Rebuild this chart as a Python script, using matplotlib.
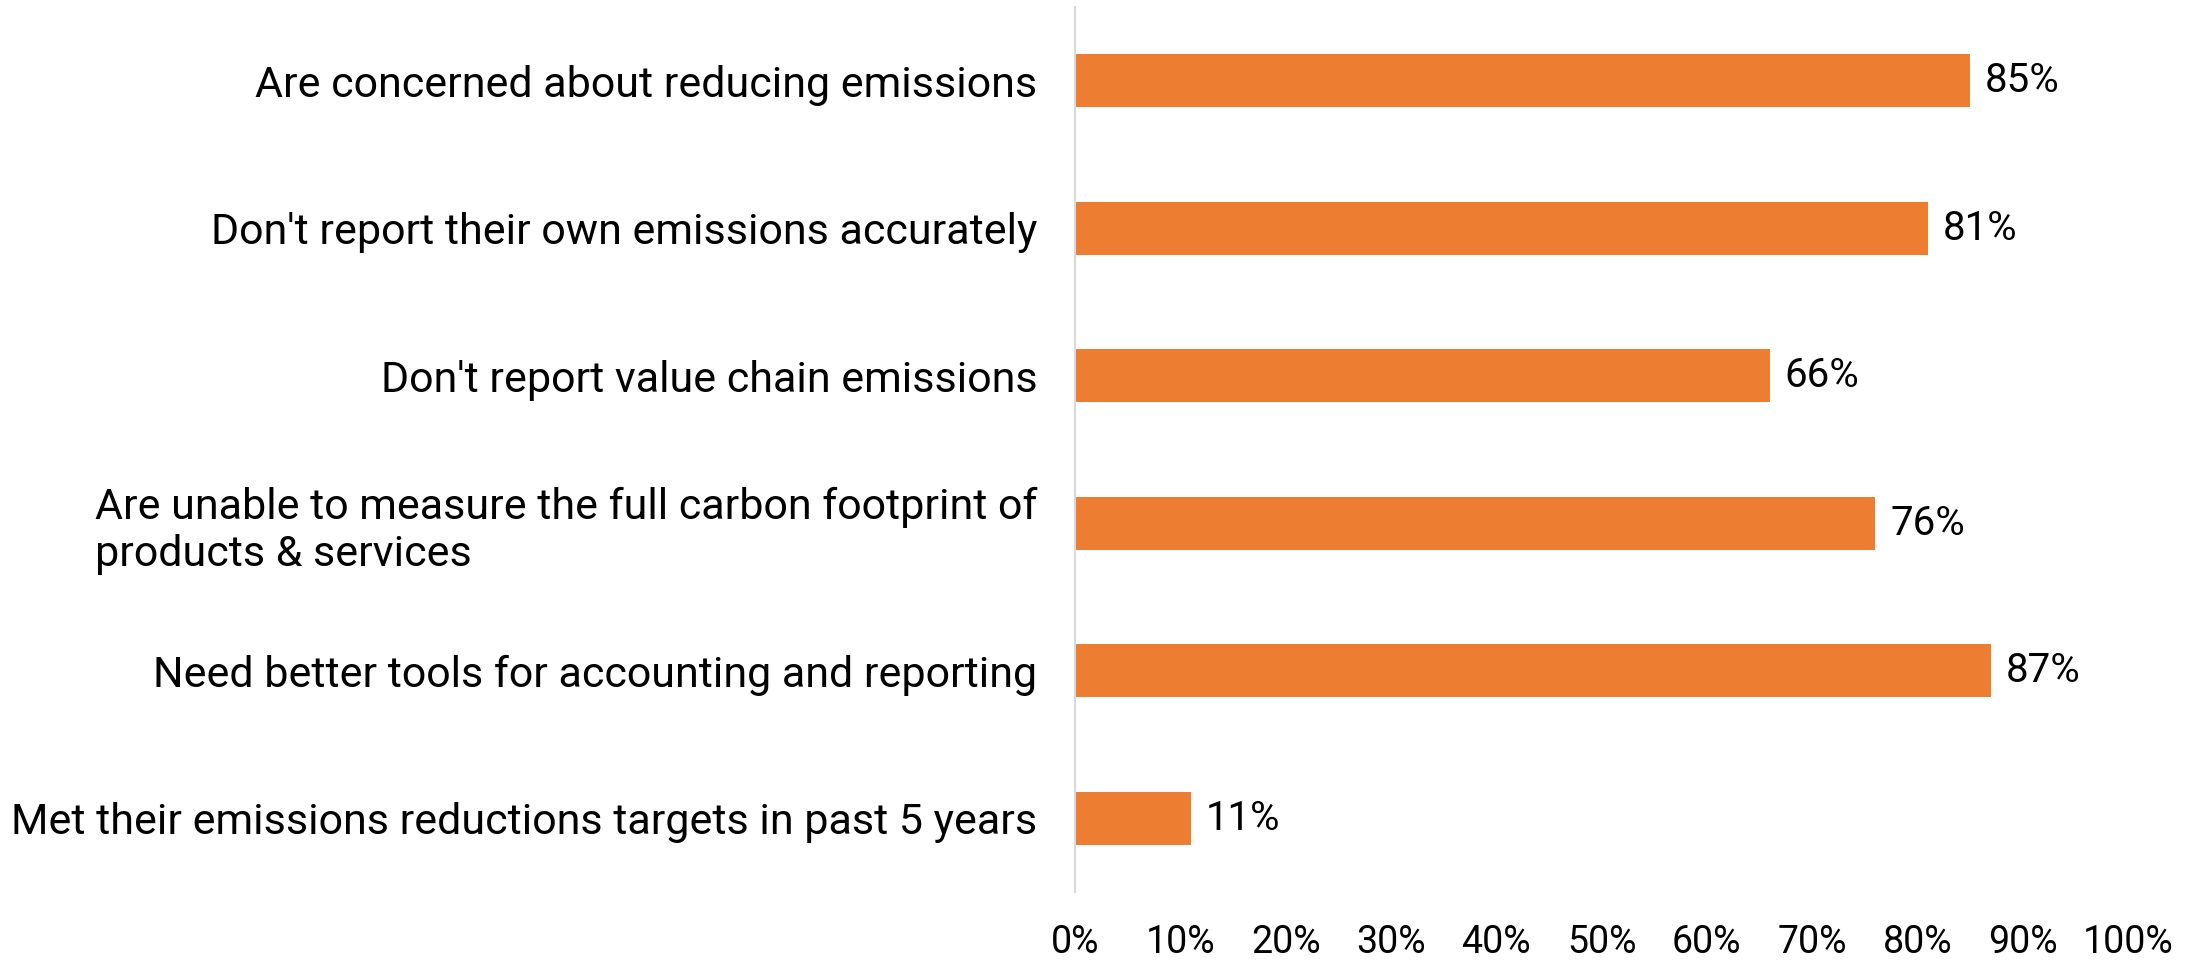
import matplotlib
matplotlib.use("Agg")
import matplotlib.pyplot as plt

plt.rcParams['font.family'] = ['Roboto', 'DejaVu Sans']

categories = [
    "Are concerned about reducing emissions",
    "Don't report their own emissions accurately",
    "Don't report value chain emissions",
    "Are unable to measure the full carbon footprint of\nproducts & services",
    "Need better tools for accounting and reporting",
    "Met their emissions reductions targets in past 5 years",
]
values = [85, 81, 66, 76, 87, 11]
xticks = [0, 10, 20, 30, 40, 50, 60, 70, 80, 90, 100]
xticklabels = [f"{t}%" for t in xticks]

W, H = 2203, 964
fig = plt.figure(figsize=(W / 100, H / 100), dpi=100)
ax = fig.add_axes([1075 / W, 1 - 892 / H, (2128 - 1075) / W, (892 - 7) / H])

color = '#ED7D31'
y = list(range(len(categories)))
ax.barh(y, values, height=0.36, color=color)
ax.set_ylim(5.5, -0.5)
ax.set_xlim(0, 100)

for yi, v in zip(y, values):
    ax.text(v + 1.4, yi, f"{v}%", va='center', ha='left', fontsize=29, color='black')

ax.set_yticks(y)
ax.set_yticklabels(categories, fontsize=31)
for lab in ax.get_yticklabels():
    lab.set_multialignment('left')
ax.set_xticks(xticks)
ax.set_xticklabels(xticklabels, fontsize=27)
ax.tick_params(axis='y', length=0, pad=27)
ax.tick_params(axis='x', length=0, pad=23)

for s in ['top', 'right', 'bottom']:
    ax.spines[s].set_visible(False)
ax.spines['left'].set_color('#D9D9D9')
ax.spines['left'].set_linewidth(1.5)

fig.savefig('out.png', dpi=100)
